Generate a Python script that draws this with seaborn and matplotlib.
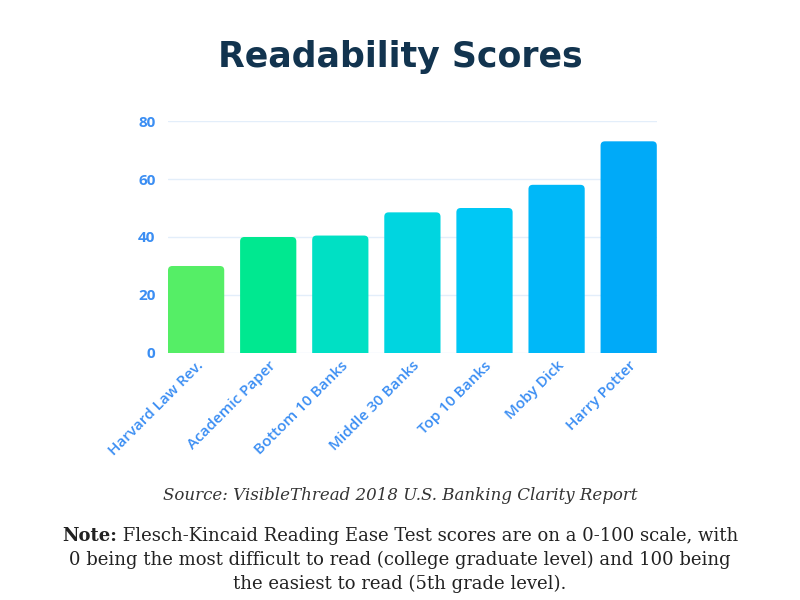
import matplotlib
matplotlib.use("Agg")
import matplotlib.pyplot as plt
from matplotlib.patches import FancyBboxPatch
import seaborn as sns
import pandas as pd

categories = ["Harvard Law Rev.", "Academic Paper", "Bottom 10 Banks",
              "Middle 30 Banks", "Top 10 Banks", "Moby Dick", "Harry Potter"]
scores = [30, 40, 40.5, 48.5, 50, 58, 73]
bar_colors = ["#55EE66", "#00E890", "#00E0C4", "#00D5E0",
              "#00C8F5", "#00B8F8", "#00AAF8"]
y_ticks = [0, 20, 40, 60, 80]

df = pd.DataFrame({"name": categories, "score": scores})

sns.set_style("white")
plt.rcParams["font.family"] = ["Open Sans", "DejaVu Sans"]

fig = plt.figure(figsize=(8, 6), dpi=100)
ax = fig.add_axes([0.21, 0.4117, 0.611, 0.3866])

sns.barplot(data=df, x="name", y="score", hue="name", palette=bar_colors,
            legend=False, width=0.78, saturation=1, ax=ax)

ax.set_ylim(0, 80)
ax.set_xlim(-0.39, len(categories) - 1 + 0.39)

# swap the plain bars for ones with rounded corners
asp = (80 / (0.3866 * 600)) / ((len(categories) - 0.22) / (0.611 * 800))
for p in list(ax.patches):
    x0, w, h = p.get_x(), p.get_width(), p.get_height()
    fc = p.get_facecolor()
    p.remove()
    ax.add_patch(FancyBboxPatch((x0, -3), w, h + 3,
                                boxstyle="round,pad=0,rounding_size=0.06",
                                mutation_aspect=asp, facecolor=fc,
                                edgecolor="none", zorder=3))

ax.set_yticks(y_ticks)
ax.yaxis.grid(True, color="#E3EEFA", linewidth=1, zorder=0)
ax.set_axisbelow(True)
for s in ax.spines.values():
    s.set_visible(False)
ax.set_xlabel("")
ax.set_ylabel("")
ax.tick_params(axis="both", length=0, colors="#3B8EF3", labelsize=11)
ax.tick_params(axis="y", pad=9)
ax.tick_params(axis="x", pad=4)
for lbl in ax.get_yticklabels():
    lbl.set_fontweight("bold")
for lbl in ax.get_xticklabels():
    lbl.set_rotation(45)
    lbl.set_ha("right")
    lbl.set_rotation_mode("anchor")
    lbl.set_fontweight("semibold")

fig.text(0.5, 1 - 57 / 600, "Readability Scores", ha="center", va="center",
         fontsize=25, fontweight="bold", family="DejaVu Sans", color="#12344F")

fig.text(0.5, 1 - 495 / 600, "Source: VisibleThread 2018 U.S. Banking Clarity Report",
         ha="center", va="center", fontsize=12, style="italic",
         family="DejaVu Serif", color="#333333")

note_bold = "Note:"
note_rest = " Flesch-Kincaid Reading Ease Test scores are on a 0-100 scale, with"
note_lines = ["0 being the most difficult to read (college graduate level) and 100 being",
              "the easiest to read (5th grade level)."]
serif = dict(fontsize=13, family="DejaVu Serif", color="#222222", va="center")

renderer = fig.canvas.get_renderer()
t1 = fig.text(0, 1 - 536 / 600, note_bold, fontweight="bold", ha="left", **serif)
t2 = fig.text(0, 1 - 536 / 600, note_rest, ha="left", **serif)
w1 = t1.get_window_extent(renderer).width
w2 = t2.get_window_extent(renderer).width
start = (800 - w1 - w2) / 2
t1.set_x(start / 800)
t2.set_x((start + w1) / 800)

for i, line in enumerate(note_lines):
    fig.text(0.5, 1 - (560 + 24 * i) / 600, line, ha="center", **serif)

fig.savefig("out.png", dpi=100)
